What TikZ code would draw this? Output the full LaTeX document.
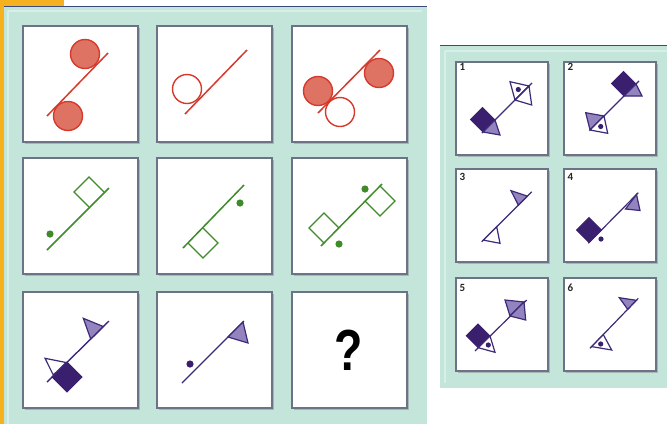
\documentclass[tikz,border=0pt]{standalone}
\usepackage{fontspec}
\newfontfamily\labelfont{Carlito}
\newfontfamily\qfont{Liberation Sans}
\definecolor{mint}{HTML}{C3E5DA}
\definecolor{mintlight}{HTML}{D6EFE7}
\definecolor{orangebar}{HTML}{F5B21E}
\definecolor{topline}{HTML}{3A4A7A}
\definecolor{boxgray}{HTML}{6D7386}
\definecolor{shadowgray}{HTML}{A9B5B4}
\definecolor{myred}{HTML}{D63A2C}
\definecolor{redfill}{HTML}{DE7363}
\definecolor{mygreen}{HTML}{3F8A2A}
\definecolor{mypurple}{HTML}{3D2A78}
\definecolor{darkpurple}{HTML}{3A1F6E}
\definecolor{lavender}{HTML}{9383BE}
\begin{document}
\begin{tikzpicture}[x=1pt,y=-1pt,
  cell/.style={fill=white,draw=boxgray,line width=1.3pt},
  cellshadow/.style={fill=shadowgray},
  rl/.style={draw=myred,line width=1.5pt},
  rfull/.style={draw=myred,line width=1.4pt,fill=redfill},
  rempty/.style={draw=myred,line width=1.4pt,fill=none},
  gl/.style={draw=mygreen,line width=1.5pt},
  gsq/.style={draw=mygreen,line width=1.4pt,line join=miter},
  gdot/.style={fill=mygreen},
  pl/.style={draw=mypurple,line width=1.4pt},
  pl2/.style={draw=mypurple,line width=1.2pt},
  pdark/.style={draw=darkpurple,line width=1pt,fill=darkpurple},
  phatch/.style={draw=mypurple,line width=1.2pt,fill=lavender,line join=miter},
  pempty/.style={draw=mypurple,line width=1.2pt,fill=white,line join=miter},
  pdot/.style={fill=darkpurple},
  numlabel/.style={font=\labelfont\bfseries\fontsize{11}{11}\selectfont,text=black!85,inner sep=0pt}
]
\useasboundingbox (0,0) rectangle (667,424);
\fill[white] (0,0) rectangle (667,424);
% panels
\fill[orangebar] (0,0) rectangle (64,6);
\fill[orangebar] (0,0) rectangle (3.5,424);
\fill[mint] (3.5,6) rectangle (427,424);
\draw[mintlight,line width=2pt] (8,11) -- (422,11);
\draw[mintlight,line width=2pt] (8,11) -- (8,424);
\draw[topline,line width=0.8pt] (3.5,6) -- (427,6);
\fill[mint] (440,45.5) rectangle (667,388);
\draw[mintlight,line width=2pt] (445,50.5) -- (667,50.5);
\draw[mintlight,line width=2pt] (445,50.5) -- (445,383);
\draw[topline,line width=0.8pt] (440,45.5) -- (667,45.5);
% cells
\foreach \x in {23,157,292} {\foreach \y in {26,158,292} {
  \fill[cellshadow] (\x+1.5,\y+1.5) rectangle ++(115,116);
  \draw[cell] (\x,\y) rectangle ++(115,116);}}
\foreach \x in {456,564} {\foreach \y in {62,169,278} {
  \fill[cellshadow] (\x+1.5,\y+1.5) rectangle ++(92,93);
  \draw[cell] (\x,\y) rectangle ++(92,93);}}

% ---- row 1 (red)
\draw[rl] (47,116) -- (108,53);
\draw[rfull] (85,54) circle[radius=14.5pt];
\draw[rfull] (68,116) circle[radius=14.5pt];

\draw[rl] (185,114) -- (247,50);
\draw[rempty] (187,89) circle[radius=14.5pt];

\draw[rl] (318,113) -- (380,50);
\draw[rfull] (379,73) circle[radius=14.5pt];
\draw[rfull] (318,91) circle[radius=14.5pt];
\draw[rempty] (340,112) circle[radius=14.5pt];

% ---- row 2 (green)
\draw[gl] (47,250) -- (109,188);
\draw[gsq] (89,207) -- (74,192) -- (89,177) -- (104,192);
\fill[gdot] (50,234) circle[radius=3.6pt];

\draw[gl] (183,248) -- (244,185);
\draw[gsq] (188,243) -- (203,258) -- (218,243) -- (203,228);
\fill[gdot] (240,203) circle[radius=3.6pt];

\draw[gl] (321,246) -- (382,184);
\draw[gsq] (324,243) -- (309,228) -- (324,213) -- (339,228);
\draw[gsq] (365,201) -- (380,216) -- (395,201) -- (380,186);
\fill[gdot] (365,189) circle[radius=3.6pt];
\fill[gdot] (339,244) circle[radius=3.6pt];

% ---- row 3 (purple)
\draw[pl] (47,382) -- (109,321);
\draw[pdark] (52,377) -- (67,362) -- (82,377) -- (67,392) -- cycle;
\draw[pempty] (66,362.5) -- (45,358.3) -- (53.3,375) -- cycle;
\draw[phatch] (103.3,326.5) -- (83.3,318.3) -- (90.7,339) -- cycle;

\draw[pl] (182,383) -- (244,321);
\draw[phatch] (243,322) -- (248,343) -- (228,337) -- cycle;
\fill[pdot] (190,364) circle[radius=3.6pt];

\node[font=\qfont\bfseries\fontsize{58}{58}\selectfont,xscale=0.8,inner sep=0pt] (q) at (349,350) {?};

% ---- answers
\node[numlabel] (n1) at (462.5,66.5) {1};
\node[numlabel] (n2) at (570.5,66.5) {2};
\node[numlabel] (n3) at (462.5,176.5) {3};
\node[numlabel] (n4) at (570.5,176.5) {4};
\node[numlabel] (n5) at (462.5,288) {5};
\node[numlabel] (n6) at (570.5,288) {6};

% answer 1
\draw[pl2] (482,133) -- (532,83);
\draw[pdark] (483,132) -- (495,120) -- (482.5,107.5) -- (470.5,119.5) -- cycle;
\draw[phatch] (483,132) -- (495,120) -- (500,135) -- cycle;
\draw[pempty] (515,100) -- (529,86) -- (510,81.7) -- cycle;
\draw[pempty] (515,100) -- (529,86) -- (531.7,105) -- cycle;
\draw[pl2] (515,100) -- (529,86);
\fill[pdot] (518.3,89.5) circle[radius=2.6pt];

% answer 2
\draw[pl2] (590,130) -- (639,81);
\draw[pdark] (624,96) -- (636,84) -- (623.5,71.5) -- (611.5,83.5) -- cycle;
\draw[phatch] (624,96) -- (636,84) -- (642,96) -- cycle;
\draw[phatch] (590,130) -- (604,116) -- (585.7,112.7) -- cycle;
\draw[pempty] (590,130) -- (604,116) -- (607.7,133.3) -- cycle;
\fill[pdot] (600.7,126.5) circle[radius=2.6pt];

% answer 3
\draw[pl2] (481.7,241.7) -- (531.7,191.7);
\draw[phatch] (527.3,196.1) -- (511,190.7) -- (518.3,205.1) -- cycle;
\draw[pempty] (483.3,240.1) -- (496.7,226.7) -- (500,243.3) -- cycle;

% answer 4
\draw[pl2] (588.3,243.3) -- (638.3,192.7);
\draw[pdark] (589,242.5) -- (601.5,230) -- (589,217.5) -- (576.5,230) -- cycle;
\fill[pdot] (601,239) circle[radius=2.6pt];
\draw[phatch] (636.5,194.5) -- (640,210.5) -- (625.5,209) -- cycle;

% answer 5
\draw[pl2] (475,351) -- (526.7,300);
\draw[pdark] (478.3,347.7) -- (490,336) -- (478,324) -- (466.3,335.7) -- cycle;
\draw[pempty] (478.3,347.7) -- (490,336) -- (495,352.3) -- cycle;
\fill[pdot] (488.3,345) circle[radius=2.6pt];
\draw[phatch] (510,316) -- (524,302) -- (505,300) -- cycle;
\draw[phatch] (510,316) -- (524,302) -- (525.7,320) -- cycle;

% answer 6
\draw[pl2] (590,348.3) -- (638.3,298.3);
\draw[phatch] (636.3,300.3) -- (619.3,297.7) -- (627.7,309.3) -- cycle;
\draw[pempty] (591.7,346.6) -- (603.3,334.6) -- (611.7,350) -- cycle;
\fill[pdot] (600.7,344) circle[radius=2.6pt];
\end{tikzpicture}
\end{document}
